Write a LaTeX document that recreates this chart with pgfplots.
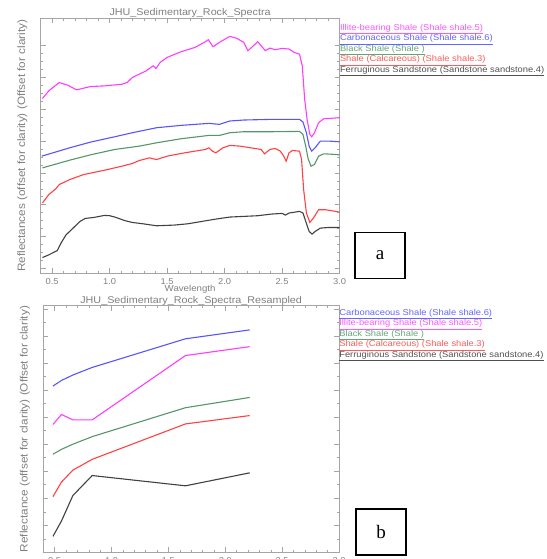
\documentclass[border=0pt]{standalone}
\usepackage{fontspec}
\usepackage{pgfplots}
\pgfplotsset{compat=1.18}
\setmainfont{Liberation Serif}
\newfontfamily\idl[FakeStretch=1.1]{Liberation Sans}
\definecolor{axgray}{RGB}{165,165,165}
\definecolor{lblgray}{RGB}{128,128,128}
\definecolor{cmag}{RGB}{255,60,255}
\definecolor{cblue}{RGB}{85,85,255}
\definecolor{cgreen}{RGB}{85,150,105}
\definecolor{cred}{RGB}{255,65,65}
\definecolor{cblack}{RGB}{65,65,65}
\definecolor{lmag}{RGB}{255,85,255}
\definecolor{lblue}{RGB}{100,100,255}
\definecolor{lgreen}{RGB}{100,165,120}
\definecolor{lred}{RGB}{255,90,90}
\definecolor{lgray}{RGB}{80,80,80}
\pgfplotsset{idlaxis/.style={
  scale only axis,
  axis line style={draw=axgray, line width=0.6pt},
  every tick/.style={draw=axgray, line width=0.5pt},
  tick align=inside, tick pos=both,
  major tick length=5pt, minor tick length=2.5pt,
  xmin=0.4, xmax=3.0, xtick={0.5,1.0,1.5,2.0,2.5,3.0}, minor x tick num=4,
  xticklabel style={font=\idl\fontsize{8.5}{10}\selectfont, text=lblgray, anchor=base, yshift=-11pt,
    /pgf/number format/fixed, /pgf/number format/fixed zerofill, /pgf/number format/precision=1,
    /pgf/number format/assume math mode=true},
  yticklabels={},
  every axis title/.style={font=\idl\fontsize{9.8}{11}\selectfont, text=lblgray, at={(0.5,1)}, anchor=base, yshift=2.4pt, inner sep=0pt},
  every axis x label/.style={font=\idl\fontsize{8.8}{10}\selectfont, text=lblgray, at={(0.5,0)}, anchor=base, yshift=-18.6pt, inner sep=0pt},
  every axis y label/.style={font=\idl\fontsize{10.7}{12}\selectfont, text=lblgray, at={(-0.061,0.5)}, anchor=center, rotate=90, inner sep=0pt},
  legend image code/.code={},
  legend cell align=left,
  legend style={draw=none, fill=none, inner sep=0pt, outer sep=0pt, column sep=0pt, row sep=0pt,
    font=\idl\fontsize{8.5}{10}\selectfont,
    nodes={inner sep=0pt, text height=7.5pt, text depth=3pt}},
  every axis plot/.append style={line width=1.1pt, no markers},
}}
\begin{document}
\begin{tikzpicture}[x=1pt,y=1pt]
\path[use as bounding box] (0,0) rectangle (546,559);
% ---------------- panel a ----------------
\begin{axis}[idlaxis, at={(40.7pt,285.7pt)}, anchor=south west,
  width=298.8pt, height=255pt,
  ymin=-0.158, ymax=7.863, ytick={0,1,...,7}, minor y tick num=3,
  title={JHU\_Sedimentary\_Rock\_Spectra},
  xlabel={Wavelength},
  ylabel={Reflectances (offset for clarity) (Offset for clarity)},
  legend style={at={(1,1)}, anchor=north west, xshift=0.5pt, yshift=-4.5pt},
]
\addplot[cmag] coordinates {
(0.415,5.337)(0.470,5.579)(0.561,5.842)(0.636,5.758)(0.712,5.611)(0.833,5.716)
(0.955,5.737)(1.106,5.789)(1.152,5.842)(1.197,6.000)(1.318,6.211)(1.379,6.368)
(1.403,6.284)(1.439,6.474)(1.500,6.632)(1.621,6.811)(1.742,6.947)(1.833,7.126)
(1.858,7.189)(1.900,6.968)(1.955,7.105)(2.045,7.295)(2.106,7.232)(2.167,7.105)
(2.203,6.842)(2.242,6.968)(2.288,7.126)(2.318,7.000)(2.355,6.842)(2.394,6.926)
(2.439,6.874)(2.500,6.916)(2.561,6.895)(2.606,6.789)(2.652,6.737)(2.676,6.368)
(2.697,5.316)(2.718,4.684)(2.742,4.211)(2.758,4.137)(2.782,4.263)(2.818,4.579)
(2.864,4.705)(2.924,4.716)(3.000,4.737)};
\addlegendentry{\textcolor{lmag}{\underline{Illite-bearing Shale (Shale shale.5)}}}
\addplot[cblue] coordinates {
(0.409,3.526)(0.652,3.789)(0.833,3.968)(1.045,4.137)(1.197,4.263)(1.409,4.421)
(1.621,4.495)(1.864,4.558)(1.955,4.526)(2.045,4.632)(2.167,4.663)(2.409,4.684)
(2.652,4.684)(2.682,4.600)(2.712,4.263)(2.736,3.842)(2.758,3.684)(2.788,3.789)
(2.833,4.000)(2.909,4.000)(3.000,3.979)};
\addlegendentry{\textcolor{lblue}{\underline{Carbonaceous Shale (Shale shale.6)}}}
\addplot[cgreen] coordinates {
(0.415,3.158)(0.652,3.400)(0.833,3.568)(1.045,3.737)(1.258,3.842)(1.409,3.947)
(1.621,4.074)(1.864,4.179)(1.955,4.179)(2.045,4.263)(2.167,4.295)(2.409,4.295)
(2.652,4.305)(2.682,4.211)(2.706,3.842)(2.727,3.442)(2.752,3.211)(2.782,3.263)
(2.818,3.526)(2.864,3.600)(2.924,3.589)(3.000,3.568)};
\addlegendentry{\textcolor{lgreen}{\underline{Black Shale (Shale )}}}
\addplot[cred] coordinates {
(0.415,2.053)(0.470,2.316)(0.530,2.495)(0.561,2.632)(0.652,2.789)(0.773,2.947)
(0.955,3.084)(1.106,3.211)(1.197,3.295)(1.258,3.389)(1.348,3.474)(1.379,3.442)
(1.409,3.421)(1.500,3.526)(1.621,3.611)(1.742,3.684)(1.833,3.737)(1.864,3.789)
(1.894,3.684)(1.924,3.632)(1.985,3.789)(2.045,3.863)(2.136,3.842)(2.227,3.789)
(2.318,3.737)(2.348,3.600)(2.394,3.737)(2.439,3.768)(2.485,3.684)(2.515,3.526)
(2.536,3.368)(2.561,3.632)(2.591,3.705)(2.652,3.684)(2.670,3.421)(2.688,2.474)
(2.712,1.737)(2.742,1.442)(2.773,1.579)(2.818,1.842)(2.879,1.842)(3.000,1.768)};
\addlegendentry{\textcolor{lred}{\underline{Shale (Calcareous) (Shale shale.3)}}}
\addplot[cblack] coordinates {
(0.415,0.337)(0.470,0.421)(0.545,0.558)(0.576,0.789)(0.621,1.053)(0.682,1.263)
(0.742,1.474)(0.788,1.568)(0.864,1.600)(0.955,1.663)(1.000,1.653)(1.045,1.611)
(1.136,1.495)(1.197,1.442)(1.288,1.400)(1.409,1.337)(1.561,1.358)(1.682,1.400)
(1.803,1.474)(1.924,1.547)(2.045,1.611)(2.167,1.632)(2.288,1.653)(2.409,1.705)
(2.500,1.726)(2.530,1.674)(2.561,1.737)(2.652,1.789)(2.682,1.737)(2.706,1.474)
(2.736,1.158)(2.761,1.074)(2.788,1.158)(2.833,1.263)(2.909,1.284)(3.000,1.284)};
\addlegendentry{\textcolor{lgray}{\underline{Ferruginous Sandstone (Sandstone sandstone.4)}}}
\end{axis}
% ---------------- panel b ----------------
\begin{axis}[idlaxis, at={(43.3pt,6.7pt)}, anchor=south west,
  width=295.7pt, height=246.6pt,
  ymin=0, ymax=9.125, ytick={0,1,...,9}, minor y tick num=1,
  title={JHU\_Sedimentary\_Rock\_Spectra\_Resampled},
  ylabel={Reflectance (offset for clarity) (Offset for clarity)},
  ylabel style={at={(-0.062,0.5)}},
  legend style={at={(1,1)}, anchor=north west, xshift=0.3pt, yshift=-2.1pt},
]
\addplot[cblue] coordinates {(0.485,6.15)(0.56,6.36)(0.66,6.56)(0.83,6.84)(1.65,7.90)(2.215,8.23)};
\addlegendentry{\textcolor{lblue}{\underline{Carbonaceous Shale (Shale shale.6)}}}
\addplot[cmag] coordinates {(0.485,4.73)(0.56,5.10)(0.66,4.90)(0.83,4.90)(1.65,7.28)(2.215,7.61)};
\addlegendentry{\textcolor{lmag}{\underline{Illite-bearing Shale (Shale shale.5)}}}
\addplot[cgreen] coordinates {(0.485,3.63)(0.56,3.81)(0.66,4.00)(0.83,4.28)(1.65,5.35)(2.215,5.73)};
\addlegendentry{\textcolor{lgreen}{\underline{Black Shale (Shale )}}}
\addplot[cred] coordinates {(0.485,2.06)(0.56,2.60)(0.66,3.04)(0.83,3.44)(1.65,4.75)(2.215,5.06)};
\addlegendentry{\textcolor{lred}{\underline{Shale (Calcareous) (Shale shale.3)}}}
\addplot[cblack] coordinates {(0.485,0.59)(0.56,1.16)(0.66,2.10)(0.83,2.84)(1.65,2.46)(2.215,2.94)};
\addlegendentry{\textcolor{lgray}{\underline{Ferruginous Sandstone (Sandstone sandstone.4)}}}
\end{axis}
% panel letters
\node[draw=black, line width=1.3pt, minimum width=50pt, minimum height=46pt, inner sep=0pt,
  font=\fontsize{19}{20}\selectfont] at (380,303.7) {a};
\node[draw=black, line width=1.3pt, minimum width=50pt, minimum height=46pt, inner sep=0pt,
  font=\fontsize{19}{20}\selectfont] at (381,27) {b};
\end{tikzpicture}
\end{document}
